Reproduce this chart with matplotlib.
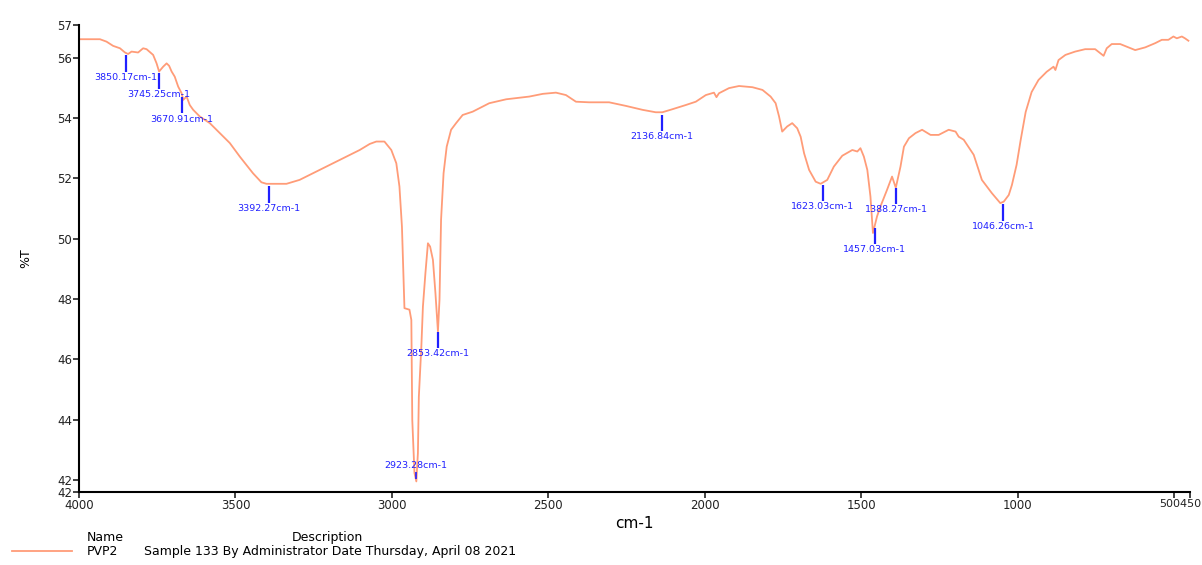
import numpy as np
import matplotlib
matplotlib.use("Agg")
import matplotlib.pyplot as plt

plt.rcParams['font.family'] = ['DejaVu Sans']

# spectrum (wavenumber cm-1, %T)
wavenumber = [4000, 3933, 3912, 3891, 3869, 3853, 3843, 3832, 3811, 3795, 3784, 3763, 3752,
              3744, 3731, 3720, 3712, 3704, 3694, 3683, 3672, 3667, 3656, 3646, 3635, 3614,
              3582, 3550, 3518, 3486, 3444, 3417, 3401, 3337, 3295, 3231, 3167, 3103, 3071,
              3050, 3024, 3002, 2986, 2976, 2968, 2960, 2944, 2938, 2935, 2928, 2922, 2917,
              2914, 2906, 2901, 2893, 2885, 2878, 2869, 2861, 2853, 2848, 2843, 2835, 2825,
              2811, 2795, 2774, 2742, 2689, 2635, 2561, 2518, 2476, 2444, 2412, 2370, 2306,
              2252, 2199, 2157, 2136, 2104, 2061, 2029, 1997, 1971, 1963, 1955, 1923, 1891,
              1848, 1816, 1790, 1774, 1763, 1753, 1737, 1721, 1705, 1694, 1683, 1667, 1646,
              1630, 1609, 1588, 1561, 1529, 1513, 1503, 1492, 1481, 1471, 1463, 1450, 1439,
              1418, 1402, 1390, 1375, 1364, 1348, 1327, 1306, 1279, 1253, 1221, 1199, 1189,
              1173, 1141, 1115, 1083, 1056, 1045, 1029, 1019, 1004, 991, 975, 956, 934, 908,
              886, 880, 870, 848, 817, 785, 753, 737, 726, 716, 700, 673, 647, 625, 593, 561,
              540, 519, 503, 492, 476, 466, 455]
transmittance = [56.61, 56.61, 56.53, 56.39, 56.31, 56.17, 56.12, 56.20, 56.17, 56.31, 56.28,
                 56.09, 55.81, 55.54, 55.70, 55.81, 55.73, 55.54, 55.37, 55.04, 54.82, 54.60,
                 54.71, 54.43, 54.27, 54.05, 53.83, 53.50, 53.17, 52.72, 52.17, 51.87, 51.82,
                 51.82, 51.95, 52.28, 52.61, 52.94, 53.14, 53.22, 53.22, 52.94, 52.50, 51.73,
                 50.40, 47.70, 47.65, 47.31, 44.00, 42.24, 41.96, 42.90, 44.77, 46.43, 47.75,
                 48.86, 49.85, 49.74, 49.30, 48.20, 46.93, 47.98, 50.63, 52.17, 53.05, 53.61,
                 53.83, 54.10, 54.21, 54.49, 54.62, 54.71, 54.80, 54.84, 54.76, 54.54, 54.52,
                 54.52, 54.40, 54.27, 54.19, 54.19, 54.29, 54.43, 54.54, 54.76, 54.84, 54.69,
                 54.82, 54.99, 55.06, 55.02, 54.93, 54.71, 54.49, 54.05, 53.55, 53.72, 53.83,
                 53.66, 53.38, 52.83, 52.28, 51.89, 51.82, 51.95, 52.39, 52.75, 52.94, 52.89,
                 53.00, 52.72, 52.28, 51.40, 50.19, 50.74, 51.07, 51.62, 52.06, 51.69, 52.39,
                 53.05, 53.33, 53.50, 53.61, 53.44, 53.44, 53.61, 53.55, 53.38, 53.28, 52.78,
                 51.95, 51.51, 51.18, 51.23, 51.45, 51.78, 52.45, 53.27, 54.20, 54.86, 55.26,
                 55.53, 55.70, 55.59, 55.92, 56.09, 56.20, 56.28, 56.28, 56.15, 56.06, 56.31,
                 56.45, 56.45, 56.34, 56.25, 56.34, 56.48, 56.59, 56.59, 56.70, 56.64, 56.70,
                 56.64, 56.56]

# picked peaks
peak_pos = [3850.17, 3745.25, 3670.91, 3392.27, 2923.28, 2853.42, 2136.84, 1623.03,
            1457.03, 1388.27, 1046.26]
peak_labels = ["3850.17cm-1", "3745.25cm-1", "3670.91cm-1", "3392.27cm-1", "2923.28cm-1",
               "2853.42cm-1", "2136.84cm-1", "1623.03cm-1", "1457.03cm-1", "1388.27cm-1",
               "1046.26cm-1"]

x_ticks = [4000, 3500, 3000, 2500, 2000, 1500, 1000, 500, 450]
x_ticklabels = ["4000", "3500", "3000", "2500", "2000", "1500", "1000", "", ""]
# the two end labels print run together in the original
joined_label_pos = 482
joined_label = "500450"
y_min, y_max = 41.61, 57.08
y_ticks = [y_min, 42, 44, 46, 48, 50, 52, 54, 56, y_max]

sample_name = "PVP2"
sample_desc = "Sample 133 By Administrator Date Thursday, April 08 2021"

line_col = "#ff9c78"
peak_col = "#2020ff"

fig = plt.figure(figsize=(12.02, 5.65), dpi=100)
ax = fig.add_axes([0.0657, 0.1292, 0.9243, 0.8265])

ax.plot(wavenumber, transmittance, color=line_col, lw=1.3)

# peak markers
w_sorted = np.array(wavenumber[::-1])
t_sorted = np.array(transmittance[::-1])
for p, lab in zip(peak_pos, peak_labels):
    tc = np.interp(p, w_sorted, t_sorted)
    if tc - 1.0 < y_min:
        # bottom peak: tiny tick with label above
        ax.vlines(p, tc + 0.02, tc + 0.25, color=peak_col, lw=1.2)
        ax.text(p, tc + 0.33, lab, color=peak_col, fontsize=6.8, ha='center', va='bottom')
    else:
        ax.vlines(p, tc - 0.08, tc - 0.62, color=peak_col, lw=1.6)
        ax.text(p, tc - 0.66, lab, color=peak_col, fontsize=6.8, ha='center', va='top')

ax.set_xlim(4000, 450)
ax.set_ylim(y_min, y_max)
ax.set_xticks(x_ticks)
ax.set_xticklabels(x_ticklabels)
ax.set_xticks([joined_label_pos], minor=True)
ax.set_xticklabels([joined_label], minor=True)
ax.set_yticks(y_ticks)
ax.set_yticklabels(["%.0f" % t for t in y_ticks])
ax.tick_params(axis='both', direction='out', length=4, width=1.2, labelsize=8.5,
               colors='#222222', pad=1)
ax.tick_params(axis='x', which='minor', length=0, labelsize=8, colors='#222222', pad=5)

ax.spines['top'].set_visible(False)
ax.spines['right'].set_visible(False)
ax.spines['left'].set_linewidth(1.5)
ax.spines['bottom'].set_linewidth(1.5)

ax.set_xlabel("cm-1", fontsize=11, labelpad=3)
ax.set_ylabel("%T", fontsize=9, labelpad=18)

# legend block under the plot
row1 = 1 - 541 / 565
row2 = 1 - 555 / 565
fig.text(87 / 1202, row1, "Name", fontsize=9, va='baseline')
fig.text(292 / 1202, row1, "Description", fontsize=9, va='baseline')
fig.lines.append(plt.Line2D([12 / 1202, 72 / 1202], [1 - 551 / 565, 1 - 551 / 565],
                            color=line_col, lw=1.3, transform=fig.transFigure))
fig.text(87 / 1202, row2, sample_name, fontsize=9, va='baseline')
fig.text(144 / 1202, row2, sample_desc, fontsize=9, va='baseline')

fig.savefig("out.png", dpi=100)
